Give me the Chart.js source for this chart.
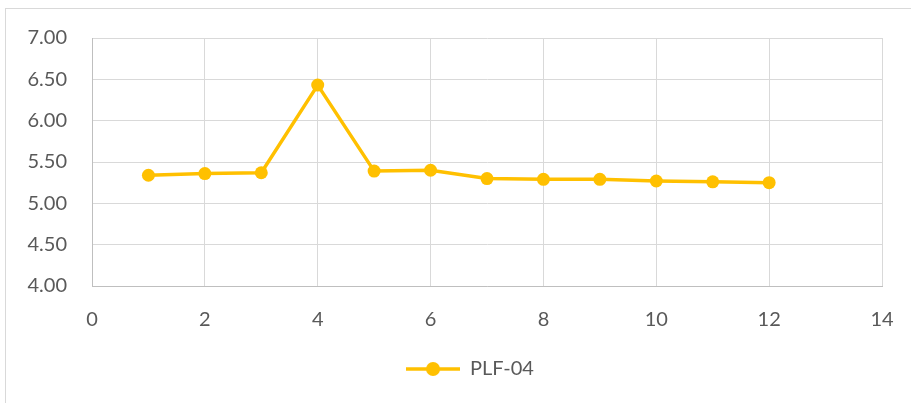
<!DOCTYPE html>
<html>
<head>
<meta charset="utf-8">
<script src="https://cdn.jsdelivr.net/npm/chart.js@4/dist/chart.umd.min.js"></script>
<style>
  html, body { margin: 0; padding: 0; background: #fff; }
  #wrap { width: 911px; height: 403px; }
</style>
</head>
<body>
<div id="wrap"><canvas id="plf"></canvas></div>
<script>
var seriesName = "PLF-04";
var xValues = [1, 2, 3, 4, 5, 6, 7, 8, 9, 10, 11, 12];
var yValues = [5.34, 5.36, 5.37, 6.43, 5.39, 5.40, 5.30, 5.29, 5.29, 5.27, 5.26, 5.25];
var xTicks = [0, 2, 4, 6, 8, 10, 12, 14];
var yTicks = [4.00, 4.50, 5.00, 5.50, 6.00, 6.50, 7.00];

var gold = "#FFC000";
var gridColor = "#D9D9D9";
var textColor = "#595959";
var fontFamily = "Lato, 'Open Sans', sans-serif";

// legend marker: line with a dot, like Excel
function legendMarker() {
    var c = document.createElement("canvas");
    c.width = 54;
    c.height = 16;
    var g = c.getContext("2d");
    g.strokeStyle = gold;
    g.lineWidth = 3.5;
    g.beginPath();
    g.moveTo(0, 8);
    g.lineTo(54, 8);
    g.stroke();
    g.fillStyle = gold;
    g.beginPath();
    g.arc(27, 8, 7, 0, Math.PI * 2);
    g.fill();
    return c;
}

var points = [];
for (var i = 0; i < xValues.length; i++) {
    points.push({x: xValues[i], y: yValues[i]});
}

var outerBorder = {
    id: "outerBorder",
    beforeDraw: function (chart) {
        var ctx = chart.ctx;
        ctx.save();
        ctx.strokeStyle = gridColor;
        ctx.lineWidth = 1;
        ctx.strokeRect(5.5, 8.5, 2000, 2000);
        ctx.restore();
    },
    afterLayout: function (chart) {
        // excel puts the legend a bit right of the canvas centre
        chart.legend.left += 29;
        chart.legend.right += 29;
    }
};

var ctx = document.getElementById("plf").getContext("2d");
new Chart(ctx, {
    type: "scatter",
    data: {
        datasets: [{
            label: seriesName,
            data: points,
            showLine: true,
            borderColor: gold,
            backgroundColor: gold,
            borderWidth: 3.5,
            pointRadius: 6.5,
            pointHoverRadius: 6.5,
            pointBorderWidth: 0,
            pointStyle: "circle"
        }]
    },
    options: {
        responsive: true,
        maintainAspectRatio: false,
        animation: false,
        layout: {
            padding: {left: 0, right: 29, top: 38, bottom: 14}
        },
        scales: {
            x: {
                type: "linear",
                min: 0,
                max: 14,
                afterBuildTicks: function (scale) {
                    scale.ticks = xTicks.map(function (v) { return {value: v}; });
                },
                afterFit: function (scale) {
                    scale.height = 63;
                    scale.paddingLeft = 0;
                    scale.paddingRight = 0;
                },
                grid: {color: gridColor, drawTicks: false},
                border: {color: "#BFBFBF"},
                ticks: {
                    color: textColor,
                    padding: 22,
                    font: {family: fontFamily, size: 20},
                    maxRotation: 0
                }
            },
            y: {
                type: "linear",
                min: 4,
                max: 7,
                afterBuildTicks: function (scale) {
                    scale.ticks = yTicks.map(function (v) { return {value: v}; });
                },
                afterFit: function (scale) {
                    scale.width = 92;
                    scale.paddingTop = 0;
                    scale.paddingBottom = 0;
                },
                grid: {color: gridColor, drawTicks: false},
                border: {color: "#BFBFBF"},
                ticks: {
                    color: textColor,
                    padding: 25,
                    font: {family: fontFamily, size: 20},
                    callback: function (v) { return Number(v).toFixed(2); }
                }
            }
        },
        plugins: {
            legend: {
                position: "bottom",
                labels: {
                    usePointStyle: true,
                    pointStyleWidth: 54,
                    padding: 10,
                    color: textColor,
                    font: {family: fontFamily, size: 20},
                    generateLabels: function (chart) {
                        return [{
                            text: seriesName,
                            pointStyle: legendMarker(),
                            fillStyle: gold,
                            strokeStyle: gold,
                            lineWidth: 0,
                            fontColor: textColor,
                            datasetIndex: 0,
                            hidden: false
                        }];
                    }
                }
            },
            tooltip: {enabled: false}
        }
    },
    plugins: [outerBorder]
});
</script>
</body>
</html>
